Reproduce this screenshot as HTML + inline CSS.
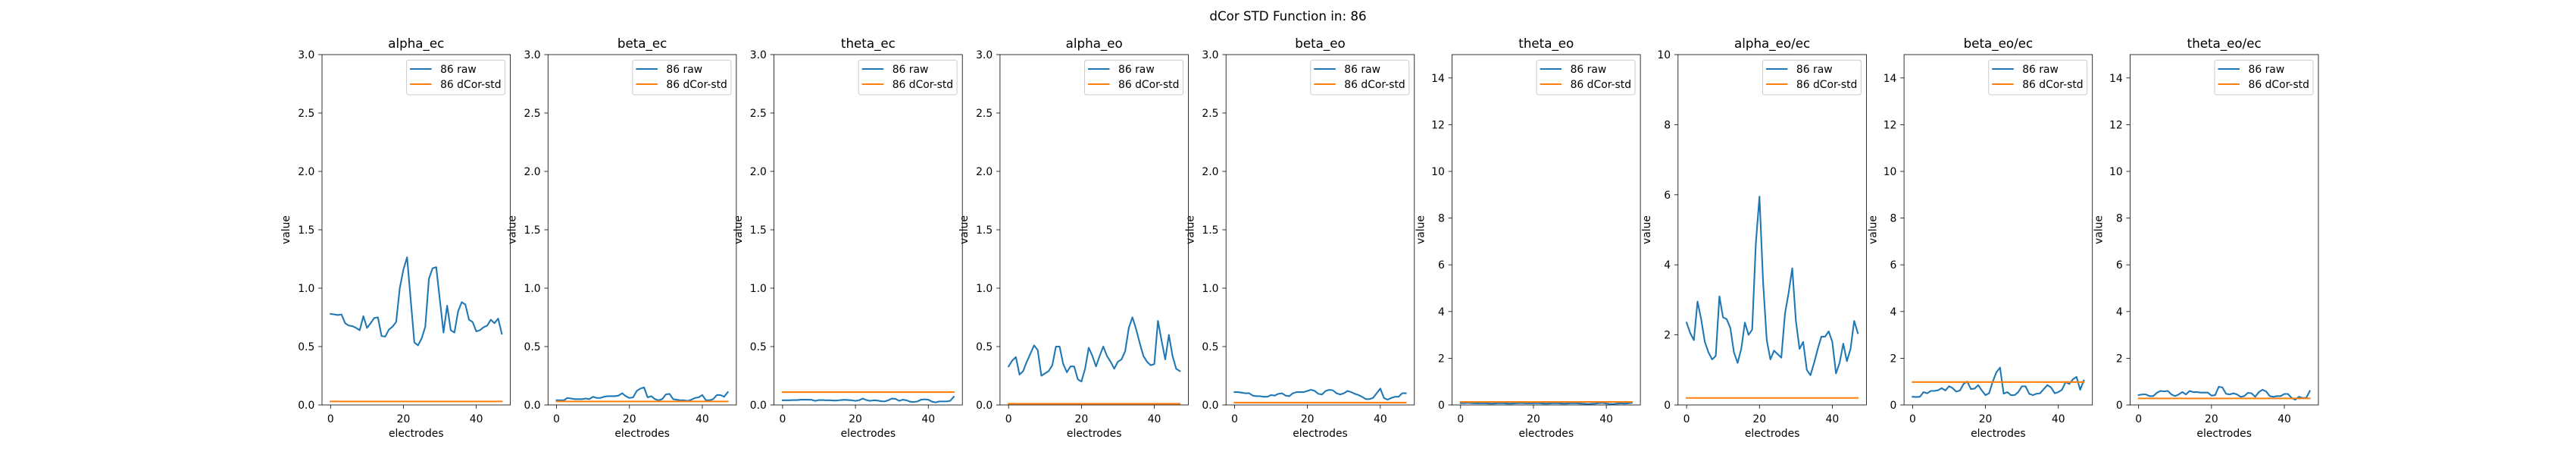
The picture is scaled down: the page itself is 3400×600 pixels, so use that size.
<!DOCTYPE html>
<html><head><meta charset="utf-8">
<style>
html,body{margin:0;padding:0;background:#fff;}
svg{display:block;font-family:"DejaVu Sans","Liberation Sans",sans-serif;}
</style></head>
<body>
<svg id="fig" width="3400" height="600" xmlns="http://www.w3.org/2000/svg">
<rect width="3400" height="600" fill="#fff"/>
<text x="1700" y="27" font-size="16.7" text-anchor="middle">dCor STD Function in: 86</text>
</svg>
<script>
const titles = ["alpha_ec","beta_ec","theta_ec","alpha_eo","beta_eo","theta_eo","alpha_eo/ec","beta_eo/ec","theta_eo/ec"];
const yMaxes = [3,3,3,3,3,15,10,15,15];
const yTickLabels = [
 ["0.0","0.5","1.0","1.5","2.0","2.5","3.0"],
 ["0.0","0.5","1.0","1.5","2.0","2.5","3.0"],
 ["0.0","0.5","1.0","1.5","2.0","2.5","3.0"],
 ["0.0","0.5","1.0","1.5","2.0","2.5","3.0"],
 ["0.0","0.5","1.0","1.5","2.0","2.5","3.0"],
 ["0","2","4","6","8","10","12","14"],
 ["0","2","4","6","8","10"],
 ["0","2","4","6","8","10","12","14"],
 ["0","2","4","6","8","10","12","14"]
];
const xTicks = [0,20,40];
const rawAlphaEc = [.78,.775,.77,.775,.70,.68,.675,.66,.64,.76,.66,.70,.745,.75,.59,.585,.645,.67,.71,1.0,1.16,1.265,.90,.535,.51,.57,.67,1.08,1.17,1.18,.90,.62,.85,.64,.62,.80,.88,.86,.73,.71,.63,.64,.665,.68,.73,.70,.74,.61];
const rawBetaEc = [.04,.04,.04,.06,.055,.05,.05,.05,.055,.05,.07,.06,.06,.07,.075,.075,.075,.08,.10,.075,.06,.065,.12,.14,.15,.065,.075,.05,.04,.05,.09,.095,.05,.045,.04,.04,.035,.045,.06,.065,.085,.04,.04,.05,.085,.085,.07,.11];
const rawThetaEc = [.04,.04,.04,.042,.042,.045,.045,.045,.044,.035,.042,.042,.04,.04,.038,.038,.042,.044,.042,.04,.035,.04,.055,.042,.035,.04,.038,.032,.03,.04,.055,.052,.035,.045,.04,.028,.025,.03,.045,.048,.045,.028,.022,.03,.03,.03,.035,.07];
const rawAlphaEo = [.33,.38,.41,.26,.29,.37,.44,.51,.47,.25,.27,.29,.34,.50,.50,.35,.28,.33,.33,.22,.20,.31,.49,.42,.33,.42,.50,.42,.37,.31,.37,.39,.46,.66,.75,.65,.53,.42,.37,.34,.35,.72,.55,.39,.60,.42,.31,.29];
const rawBetaEo = [.11,.11,.105,.10,.10,.08,.075,.075,.07,.07,.085,.08,.095,.1,.08,.075,.1,.11,.11,.11,.12,.13,.12,.095,.09,.12,.13,.125,.1,.09,.1,.12,.11,.095,.085,.07,.05,.05,.06,.10,.14,.06,.045,.06,.07,.07,.1,.1];
const rawThetaEo = [.08,.08,.09,.08,.07,.07,.07,.07,.06,.06,.07,.08,.07,.06,.06,.07,.08,.08,.07,.07,.07,.08,.07,.06,.06,.07,.08,.07,.06,.06,.07,.08,.07,.06,.05,.04,.05,.06,.08,.09,.06,.04,.04,.06,.07,.06,.07,.09];
const rawAlphaEoEc = [2.35,2.05,1.85,2.95,2.45,1.8,1.5,1.3,1.4,3.1,2.5,2.45,2.2,1.5,1.2,1.6,2.35,2.0,2.15,4.6,5.95,3.5,1.85,1.3,1.55,1.45,1.35,2.6,3.2,3.9,2.4,1.6,1.8,1.0,0.85,1.2,1.6,1.95,1.95,2.1,1.8,0.9,1.2,1.75,1.25,1.6,2.4,2.05];
const rawBetaEoEc = [.35,.34,.35,.55,.5,.6,.6,.63,.72,.62,.8,.72,.57,.62,.9,1.0,.68,.7,.85,.62,.42,.5,1.0,1.4,1.6,.48,.55,.42,.42,.55,.8,.8,.48,.42,.48,.5,.68,.85,.75,.5,.55,.65,.98,.9,1.1,1.2,.65,1.05];
const rawThetaEoEc = [.42,.45,.45,.38,.38,.52,.6,.58,.6,.45,.38,.45,.55,.45,.6,.55,.55,.53,.53,.53,.4,.42,.78,.75,.48,.45,.5,.45,.35,.38,.52,.5,.35,.55,.65,.58,.38,.35,.38,.38,.47,.47,.3,.22,.35,.3,.3,.6];
const dcorStd = [0.03,0.03,0.11,0.01,0.02,0.13,0.2,0.98,0.28];
const rawSeries = [rawAlphaEc,rawBetaEc,rawThetaEc,rawAlphaEo,rawBetaEo,rawThetaEo,rawAlphaEoEc,rawBetaEoEc,rawThetaEoEc];

const NS="http://www.w3.org/2000/svg";
const fig=document.getElementById('fig');
function mk(tag,attrs,parent,txt){const e=document.createElementNS(NS,tag);for(const k in attrs)e.setAttribute(k,attrs[k]);if(txt!==undefined)e.textContent=txt;parent.appendChild(e);return e;}
const AX_L=425, AX_W=248.6, GAP=49.7, AX_T=72, AX_B=534;
const XMIN=-2.35, XMAX=49.35;
for(let p=0;p<9;p++){
  const left=AX_L+p*(AX_W+GAP), right=left+AX_W;
  const ymax=yMaxes[p];
  const sx=v=>left+(v-XMIN)/(XMAX-XMIN)*AX_W;
  const sy=v=>AX_B-(v/ymax)*(AX_B-AX_T);
  const g=mk('g',{},fig);
  
  
  const t=mk('text',{x:(left+right)/2,y:63,'font-size':16.7,'text-anchor':'middle'},g,titles[p]);
  
  
  // y ticks
  const labs=yTickLabels[p];
  labs.forEach(l=>{
    const v=parseFloat(l), y=sy(v);
    mk('line',{x1:left-4.9,x2:left,y1:y,y2:y,stroke:'#000','stroke-width':0.8},g);
    const tl=mk('text',{x:left-9.7,y:y+5,'font-size':13.9,'text-anchor':'end'},g,l);
    
    
  });
  xTicks.forEach(v=>{
    const x=sx(v);
    mk('line',{x1:x,x2:x,y1:AX_B,y2:AX_B+4.9,stroke:'#000','stroke-width':0.8},g);
    const tl=mk('text',{x:x,y:AX_B+23,'font-size':13.9,'text-anchor':'middle'},g,String(v));
    
    
  });
  const xl=mk('text',{x:(left+right)/2,y:576,'font-size':13.9,'text-anchor':'middle'},g,'electrodes');
  
  
  const lw = ymax===3?24:(labs.some(s=>s.length>1)?18:9);
  const yx=left-9.7-lw-5.6-3.5;
  const yl=mk('text',{x:yx,y:(AX_T+AX_B)/2,'font-size':13.9,'text-anchor':'middle',transform:`rotate(-90 ${yx} ${(AX_T+AX_B)/2})`},g,'value');
  
  
  // series
  const raw=rawSeries[p];
  const pts=raw.map((v,i)=>sx(i).toFixed(2)+','+sy(v).toFixed(2)).join(' ');
  const rl=mk('polyline',{points:pts,fill:'none',stroke:'#1f77b4','stroke-width':2.08,'stroke-linejoin':'round','stroke-linecap':'square'},g);
  
  
  const dl=mk('line',{x1:sx(0),x2:sx(raw.length-1),y1:sy(dcorStd[p]),y2:sy(dcorStd[p]),stroke:'#ff7f0e','stroke-width':2.08,'stroke-linecap':'square'},g);
  
  
  // frame
  const fr=mk('rect',{x:left,y:AX_T,width:AX_W,height:AX_B-AX_T,fill:'none',stroke:'#000','stroke-width':0.8},g);
  
  
  // legend
  const lg=mk('g',{},g);
  
  
  const bx=right-137, by=79.3;
  mk('rect',{x:bx,y:by,width:130,height:45.7,rx:2.8,fill:'#fff','fill-opacity':0.8,stroke:'#cccccc','stroke-width':1},lg);
  [['86 raw','#1f77b4',91],['86 dCor-std','#ff7f0e',111]].forEach(([txt,col,yy])=>{
    const e=mk('g',{},lg);
    
    
    mk('line',{x1:bx+4.5,x2:bx+33,y1:yy,y2:yy,stroke:col,'stroke-width':2.08},e);
    mk('text',{x:bx+44.5,y:yy+5,'font-size':13.9},e,txt);
  });
}
</script>
</body></html>
